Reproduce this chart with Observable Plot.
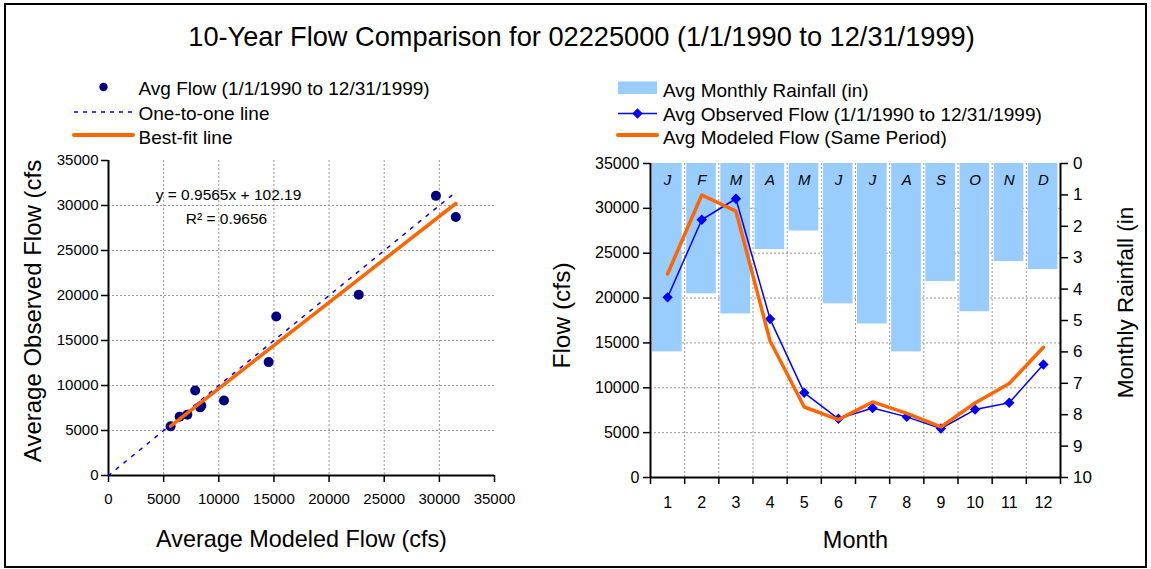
<!DOCTYPE html>
<html>
<head>
<meta charset="utf-8">
<script src="https://cdn.jsdelivr.net/npm/d3@7"></script>
<script src="https://cdn.jsdelivr.net/npm/@observablehq/plot@0.6"></script>
<style>
  body { margin: 0; background: #fff; }
  #page { position: relative; width: 1151px; height: 569px; overflow: hidden; background: #fff;
          font-family: "Liberation Sans", Arial, Helvetica, sans-serif; }
  #page > svg, #page > figure { position: absolute; margin: 0; }
  #frame { position: absolute; left: 4px; top: 3px; width: 1143px; height: 565px;
           box-sizing: border-box; border: 2px solid #000; pointer-events: none; }
</style>
</head>
<body>
<div id="page"></div>
<script>
const FONT = '"Liberation Sans", Arial, Helvetica, sans-serif';

// Monthly averages, 1/1/1990 – 12/31/1999
const months = d3.range(1, 13);
const monthLetters = ["J", "F", "M", "A", "M", "J", "J", "A", "S", "O", "N", "D"];
const rainfallIn = [6.0, 4.15, 4.79, 2.74, 2.15, 4.47, 5.11, 6.0, 3.76, 4.72, 3.12, 3.38];
const observedCfs = [20080, 28730, 31070, 17660, 9440, 6540, 7750, 6760, 5460, 7570, 8330, 12600];
const modeledCfs = [22690, 31490, 29690, 15210, 7860, 6450, 8420, 7150, 5630, 8310, 10470, 14520];

// Least-squares fit of observed on modeled flow
const fitSlope = 0.9565;
const fitIntercept = 102.19;
const fitR2 = 0.9656;

// Axis ticks
const flowTicks = d3.range(0, 35001, 5000);
const rainTicks = d3.range(0, 11);
const monthEdges = d3.range(0.5, 13, 1);

// Rainfall hangs from the top of the flow axis: 0 in at the top, 10 in at the bottom
const flowMax = 35000, rainMax = 10;
const rainToFlow = r => flowMax * (1 - r / rainMax);
const flowToRain = f => rainMax * (1 - f / flowMax);

const table = months.map((m, i) => ({
  month: m, letter: monthLetters[i], rain: rainfallIn[i],
  observed: observedCfs[i], modeled: modeledCfs[i]
}));

const xMin = d3.min(modeledCfs), xMax = d3.max(modeledCfs);
const fitLine = [xMin, xMax].map(x => ({x, y: fitSlope * x + fitIntercept}));
const oneToOne = [0, xMax].map(v => ({x: v, y: v}));

const grid = {stroke: "#999", strokeOpacity: 1, strokeWidth: 1, strokeDasharray: "2,2"};
const fmt = d3.format("d");
const titleText = {textAnchor: "middle", lineAnchor: "middle"};

// ---- Left: observed vs modeled scatter ----
const scatter = Plot.plot({
  width: 540, height: 425,
  marginLeft: 108, marginRight: 46, marginTop: 20, marginBottom: 90,
  style: {fontFamily: FONT, fontSize: "15px", color: "#000", background: "transparent", overflow: "visible"},
  x: {domain: [0, 35000]},
  y: {domain: [0, 35000]},
  marks: [
    Plot.gridX(flowTicks.slice(1, -1), grid),
    Plot.gridY(flowTicks.slice(1, -1), grid),
    Plot.axisX({ticks: flowTicks, tickFormat: fmt, tickSize: 7, tickPadding: 11, label: null, strokeWidth: 1.5}),
    Plot.axisY({ticks: flowTicks, tickFormat: fmt, tickSize: 7, tickPadding: 3, label: null, strokeWidth: 1.5}),
    Plot.ruleX([0], {stroke: "#000", strokeWidth: 2}),
    Plot.ruleY([0], {stroke: "#000", strokeWidth: 2}),
    Plot.line(oneToOne, {x: "x", y: "y", stroke: "#0000ff", strokeWidth: 1.5, strokeDasharray: "3,7"}),
    Plot.dot(table, {x: "modeled", y: "observed", r: 5, fill: "#000080", stroke: "none"}),
    Plot.line(fitLine, {x: "x", y: "y", stroke: "#ff6600", strokeWidth: 3.5}),
    Plot.text([`y = ${fitSlope}x + ${fitIntercept}`], {frameAnchor: "top-left", textAnchor: "middle", lineAnchor: "middle", dx: 120, dy: 35, fontSize: 15.5}),
    Plot.text([`R² = ${fitR2}`], {frameAnchor: "top-left", textAnchor: "middle", lineAnchor: "middle", dx: 118, dy: 59, fontSize: 15.5}),
    Plot.text(["Average Observed Flow (cfs"], {...titleText, fontSize: 24, frameAnchor: "left", rotate: -90, dx: -75, dy: -7}),
    Plot.text(["Average Modeled Flow (cfs)"], {...titleText, fontSize: 23.4, frameAnchor: "bottom", dy: 64})
  ]
});

// ---- Right: monthly flows with rainfall bars ----
const combo = Plot.plot({
  width: 611, height: 425,
  marginLeft: 110, marginRight: 91, marginTop: 23, marginBottom: 88,
  style: {fontFamily: FONT, fontSize: "16px", color: "#000", background: "transparent", overflow: "visible"},
  x: {domain: [0.5, 12.5]},
  y: {domain: [0, flowMax]},
  marks: [
    Plot.gridX(monthEdges.slice(1, -1), grid),
    Plot.gridY(flowTicks.slice(1, -1), grid),
    Plot.rect(table, {
      x1: d => d.month - 0.5, x2: d => d.month + 0.5,
      y1: () => rainToFlow(0), y2: d => rainToFlow(d.rain),
      fill: "#99ccff", insetLeft: 2, insetRight: 2.5
    }),
    Plot.text(table, {x: "month", text: "letter", frameAnchor: "top", lineAnchor: "middle", dy: 17, fontStyle: "italic", fontSize: 15}),
    Plot.axisX({ticks: months, tickFormat: fmt, tickSize: 0, tickPadding: 19, label: null}),
    Plot.axisX({ticks: monthEdges, tickFormat: () => "", tickSize: 7, label: null, strokeWidth: 1.5}),
    Plot.axisY({ticks: flowTicks, tickFormat: fmt, tickSize: 7, tickPadding: 4, label: null, strokeWidth: 1.5}),
    Plot.axisY({anchor: "right", ticks: rainTicks.map(rainToFlow), tickFormat: v => fmt(Math.round(flowToRain(v))),
                tickSize: 7, tickPadding: 5.5, label: null, strokeWidth: 1.5, fontSize: 17}),
    Plot.ruleX([0.5, 12.5], {stroke: "#000", strokeWidth: 2}),
    Plot.ruleY([0], {stroke: "#000", strokeWidth: 2}),
    Plot.line(table, {x: "month", y: "observed", stroke: "#0000ff", strokeWidth: 1.5}),
    Plot.dot(table, {x: "month", y: "observed", symbol: "diamond2", r: 4.7, fill: "#0000ff", stroke: "none"}),
    Plot.line(table, {x: "month", y: "modeled", stroke: "#ff6600", strokeWidth: 3.5}),
    Plot.text(["Flow (cfs)"], {...titleText, fontSize: 24.5, frameAnchor: "left", rotate: -90, dx: -88, dy: -5}),
    Plot.text(["Monthly Rainfall (in"], {...titleText, fontSize: 22.5, frameAnchor: "right", rotate: -90, dx: 65, dy: -18}),
    Plot.text(["Month"], {...titleText, fontSize: 23.5, frameAnchor: "bottom", dy: 63})
  ]
});

const page = document.getElementById("page");
scatter.style.left = "0px"; scatter.style.top = "140px";
combo.style.left = "540px"; combo.style.top = "140px";
page.append(scatter, combo);

// ---- Title and legends ----
const head = d3.create("svg")
  .attr("width", 1151).attr("height", 160)
  .style("position", "absolute").style("left", "0px").style("top", "0px")
  .style("font-family", FONT).style("overflow", "visible");

head.append("text").attr("x", 581.5).attr("y", 45.5).attr("text-anchor", "middle")
  .attr("font-size", 27.2).text("10-Year Flow Comparison for 02225000 (1/1/1990 to 12/31/1999)");

const legendLeft = [
  {label: "Avg Flow (1/1/1990 to 12/31/1999)", y: 95, key: "dot"},
  {label: "One-to-one line", y: 120, key: "dash"},
  {label: "Best-fit line", y: 144, key: "fit"}
];
const legendRight = [
  {label: "Avg Monthly Rainfall (in)", y: 96.5, key: "bar"},
  {label: "Avg Observed Flow (1/1/1990 to 12/31/1999)", y: 120.5, key: "obs"},
  {label: "Avg Modeled Flow (Same Period)", y: 144, key: "mod"}
];

function drawKey(g, key, x0, x1, y) {
  const cx = (x0 + x1) / 2;
  if (key === "dot") g.append("circle").attr("cx", cx).attr("cy", y - 8).attr("r", 4.2).attr("fill", "#000080");
  if (key === "dash") g.append("line").attr("x1", x0).attr("x2", x1).attr("y1", y - 8).attr("y2", y - 8)
      .attr("stroke", "#0000ff").attr("stroke-width", 1.5).attr("stroke-dasharray", "4,5");
  if (key === "fit" || key === "mod") g.append("line").attr("x1", x0).attr("x2", x1).attr("y1", y - 9).attr("y2", y - 9)
      .attr("stroke", "#ff6600").attr("stroke-width", 4).attr("stroke-linecap", "round");
  if (key === "bar") g.append("rect").attr("x", x0).attr("y", y - 15).attr("width", x1 - x0).attr("height", 12.5).attr("fill", "#99ccff");
  if (key === "obs") {
    g.append("line").attr("x1", x0).attr("x2", x1).attr("y1", y - 7).attr("y2", y - 7)
      .attr("stroke", "#0000ff").attr("stroke-width", 1.5);
    g.append("path").attr("transform", `translate(${cx},${y - 7})`)
      .attr("d", d3.symbol(d3.symbolDiamond2, Math.PI * 4.7 * 4.7)()).attr("fill", "#0000ff");
  }
}

for (const d of legendLeft) {
  drawKey(head, d.key, 74, 133, d.y);
  head.append("text").attr("x", 138.5).attr("y", d.y).attr("font-size", 19).text(d.label);
}
for (const d of legendRight) {
  drawKey(head, d.key, 618, 657, d.y);
  head.append("text").attr("x", 663).attr("y", d.y).attr("font-size", 19).text(d.label);
}
page.append(head.node());

const frame = document.createElement("div");
frame.id = "frame";
page.append(frame);
</script>
</body>
</html>
